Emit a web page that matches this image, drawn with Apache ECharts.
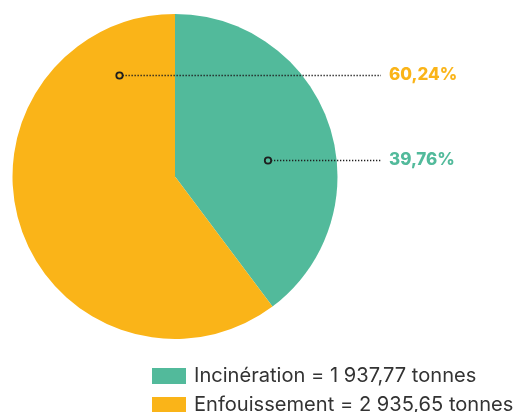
<!DOCTYPE html>
<html>
<head>
<meta charset="utf-8">
<script src="https://cdn.jsdelivr.net/npm/echarts@6/dist/echarts.min.js"></script>
<style>
  html, body { margin: 0; padding: 0; background: #fff; }
  #chart { width: 516px; height: 412px; }
</style>
</head>
<body>
<div id="chart"></div>
<script>
var categories = ['Incinération', 'Enfouissement'];
var tonnes = [1937.77, 2935.65];
var colors = ['#52BA9B', '#FAB418'];

// départ de la ligne pointillée (dans la part), fin de ligne, début du libellé
var labelAnchors = [[268, 160], [119.5, 75]];
var lineEndX = 381;
var labelX = 389;

var total = tonnes[0] + tonnes[1];

function frNum(v) {
  var parts = v.toFixed(2).split('.');
  var ent = parts[0].replace(/\B(?=(\d{3})+(?!\d))/g, ' ');
  return ent + ',' + parts[1];
}

var chart = echarts.init(document.getElementById('chart'));

var pieData = categories.map(function (c, i) {
  return {
    name: c,
    value: tonnes[i],
    itemStyle: { color: colors[i] },
    label: { color: colors[i] }
  };
});

var leaders = [];
labelAnchors.forEach(function (a) {
  leaders.push({
    type: 'line',
    shape: { x1: a[0] + 3, y1: a[1] + 0.5, x2: lineEndX, y2: a[1] + 0.5 },
    style: { stroke: '#1e1e1e', lineWidth: 1.3, lineDash: [1.3, 1.7] },
    z: 100
  });
  leaders.push({
    type: 'circle',
    shape: { cx: a[0], cy: a[1] + 0.5, r: 3.2 },
    style: { fill: 'none', stroke: '#1e1e1e', lineWidth: 1.8 },
    z: 101
  });
});

var option = {
  animation: false,
  legend: {
    orient: 'vertical',
    left: 152,
    top: 366,
    height: 80,
    padding: 0,
    itemWidth: 34,
    itemHeight: 16,
    itemGap: 9,
    icon: 'rect',
    data: categories,
    formatter: function (name) {
      var i = categories.indexOf(name);
      return name + ' = ' + frNum(tonnes[i]) + ' tonnes';
    },
    textStyle: {
      color: '#333',
      fontSize: 20.1,
      lineHeight: 20,
      fontFamily: 'Inter',
      padding: [0, 0, 0, 3]
    }
  },
  series: [{
    type: 'pie',
    center: [175, 176.5],
    radius: 162.5,
    startAngle: 90,
    clockwise: true,
    silent: true,
    avoidLabelOverlap: false,
    data: pieData,
    label: {
      show: true,
      position: 'inside',
      fontFamily: 'Inter',
      fontWeight: 800,
      fontSize: 17,
      formatter: function (p) {
        return (p.value / total * 100).toFixed(2).replace('.', ',') + '%';
      }
    },
    labelLine: { show: false },
    labelLayout: function (p) {
      var a = labelAnchors[p.dataIndex];
      return {
        x: labelX,
        y: a[1],
        align: 'left',
        verticalAlign: 'middle'
      };
    }
  }],
  graphic: leaders
};

chart.setOption(option);
</script>
</body>
</html>
